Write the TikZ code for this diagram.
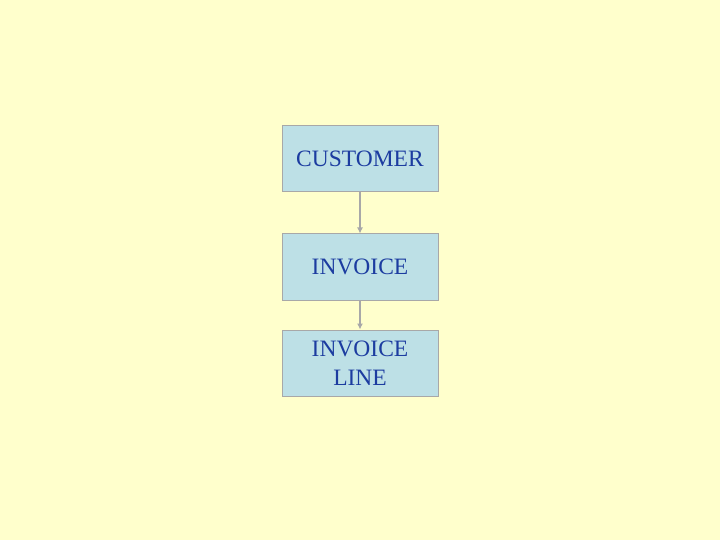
\documentclass[tikz,border=0pt]{standalone}
\usepackage{fontspec}
\setmainfont{Liberation Serif}
\usetikzlibrary{arrows.meta}
\definecolor{bgyellow}{RGB}{255,255,204}
\definecolor{boxblue}{RGB}{189,224,230}
\definecolor{boxgray}{RGB}{168,168,168}
\definecolor{textblue}{RGB}{28,60,160}
\tikzset{
  entity/.style={draw=boxgray, fill=boxblue, line width=1bp, minimum width=156bp,
    minimum height=66bp, inner sep=0pt, align=center, text=textblue,
    font=\fontsize{23.5bp}{29bp}\selectfont},
  rel/.style={draw=boxgray, line width=1.5bp, -{Latex[length=6bp,width=6bp]}}
}
\begin{document}
\begin{tikzpicture}[x=1bp,y=-1bp]
  % background
  \fill[bgyellow] (0,0) rectangle (720,540);
  \useasboundingbox (0,0) rectangle (720,540);

  % entities
  \node [entity] (customer) at (360,159){CUSTOMER};
  \node [entity] (invoice) at (360,267){INVOICE};
  \node [entity] (invoiceline) at (360,363){INVOICE\\LINE};

  % relationships
  \draw [rel] (customer)--(invoice);
  \draw [rel] (invoice)--(invoiceline);
\end{tikzpicture}
\end{document}
